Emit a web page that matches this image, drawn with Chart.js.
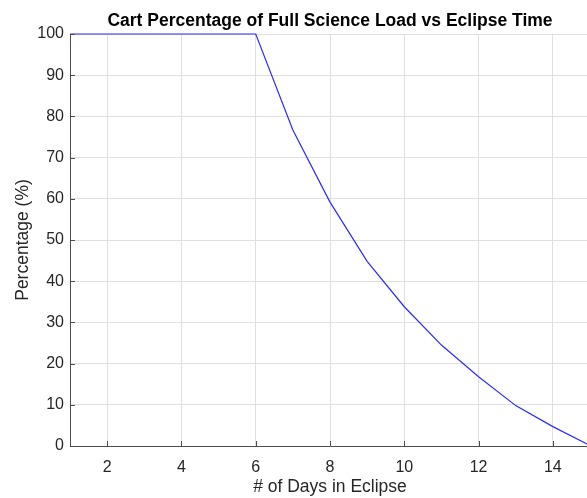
<!DOCTYPE html>
<html>
<head>
<meta charset="utf-8">
<title>Cart Percentage of Full Science Load vs Eclipse Time</title>
<script src="https://cdn.jsdelivr.net/npm/chart.js@4/dist/chart.umd.min.js"></script>
<style>
  html, body { margin: 0; padding: 0; background: #fff; overflow: hidden; }
  #cart-chart { display: block; }
</style>
</head>
<body>
<canvas id="cart-chart" width="592" height="498"></canvas>
<script>
// data
let days = [1, 2, 3, 4, 5, 6, 7, 8, 9, 10, 11, 12, 13, 14, 15];
let percent = [100, 100, 100, 100, 100, 100, 76.7, 59.2, 44.8, 33.8, 24.5, 16.8, 9.8, 4.7, 0.1];
let xTicks = [2, 4, 6, 8, 10, 12, 14];

let fontFamily = "'Liberation Sans', Arial, Helvetica, sans-serif";
let axisColor = '#4d4d4d';
let textColor = '#262626';
let gridColor = '#e0e0e0';

// matlab style ticks, drawn inward from the axes
let innerTicks = {
    id: 'innerTicks',
    afterDatasetsDraw(chart) {
        let ctx = chart.ctx;
        let area = chart.chartArea;
        let x = chart.scales.x;
        let y = chart.scales.y;
        ctx.save();
        ctx.strokeStyle = axisColor;
        ctx.lineWidth = 1;
        ctx.beginPath();
        x.ticks.forEach((t) => {
            let px = Math.round(x.getPixelForValue(t.value)) + 0.5;
            ctx.moveTo(px, area.bottom);
            ctx.lineTo(px, area.bottom - 5);
        });
        y.ticks.forEach((t) => {
            let py = Math.round(y.getPixelForValue(t.value)) + 0.5;
            ctx.moveTo(area.left, py);
            ctx.lineTo(area.left + 5, py);
        });
        ctx.stroke();
        ctx.restore();
    }
};

let cartCfg = {
    type: 'line',
    data: {
        datasets: [{
            label: 'Cart Percentage',
            data: days.map((d, i) => ({x: d, y: percent[i]})),
            borderColor: '#2a2aff',
            backgroundColor: '#2a2aff',
            borderWidth: 1.2,
            pointRadius: 0,
            tension: 0,
            clip: false
        }]
    },
    options: {
        responsive: false,
        animation: false,
        layout: {
            padding: {left: 0, right: 2, top: 0, bottom: 0}
        },
        plugins: {
            legend: { display: false },
            tooltip: { enabled: false },
            title: {
                display: true,
                fullSize: false,   // centre it over the axes, like matlab
                text: 'Cart Percentage of Full Science Load vs Eclipse Time',
                color: '#000',
                font: { family: fontFamily, size: 17.5, weight: 'bold', lineHeight: 1.2 },
                padding: { top: 10.9, bottom: 2.1 }
            }
        },
        scales: {
            x: {
                type: 'linear',
                min: 1,
                max: 15,
                afterBuildTicks: (scale) => {
                    scale.ticks = xTicks.map((v) => ({value: v}));
                },
                afterFit: (scale) => { scale.height = 52; },
                grid: { color: gridColor, drawTicks: false },
                border: { color: axisColor, width: 1 },
                ticks: {
                    color: textColor,
                    padding: 12,
                    maxRotation: 0,
                    font: { family: fontFamily, size: 16 }
                },
                title: {
                    display: true,
                    text: '# of Days in Eclipse',
                    color: textColor,
                    font: { family: fontFamily, size: 17.5, lineHeight: 1.2 },
                    padding: { top: 0, bottom: 0.3 }
                }
            },
            y: {
                min: 0,
                max: 100,
                afterFit: (scale) => { scale.width = 70; },
                grid: { color: gridColor, drawTicks: false },
                border: { color: axisColor, width: 1 },
                ticks: {
                    stepSize: 10,
                    color: textColor,
                    padding: 6,
                    font: { family: fontFamily, size: 16 }
                },
                title: {
                    display: true,
                    text: 'Percentage (%)',
                    color: textColor,
                    font: { family: fontFamily, size: 17.5, lineHeight: 1.2 },
                    padding: { top: 13, bottom: 0 }
                }
            }
        }
    },
    plugins: [innerTicks]
};

let cartChart = new Chart(document.getElementById('cart-chart'), cartCfg);
</script>
</body>
</html>
